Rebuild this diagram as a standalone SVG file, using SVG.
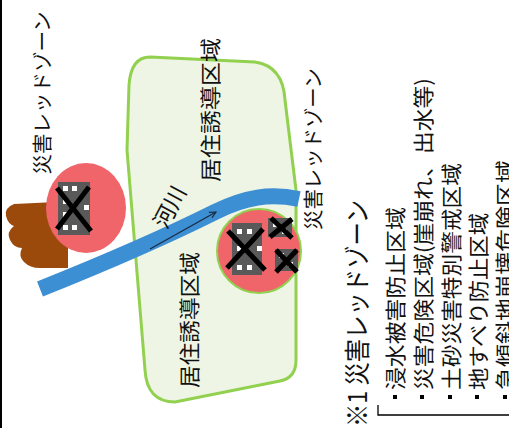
<svg xmlns="http://www.w3.org/2000/svg" width="509" height="428" viewBox="0 0 509 428">
  <defs>
    <marker id="arrowhead" viewBox="0 0 10 10" refX="9" refY="5" markerWidth="8" markerHeight="8" orient="auto" markerUnits="userSpaceOnUse">
      <path d="M1,1 L9,5 L1,9" fill="none" stroke="#1a2a40" stroke-width="1.4"/>
    </marker>
  </defs>
  <style>
    .jp { font-family: "Noto Sans CJK JP", "Noto Sans CJK SC", sans-serif; fill: #111; }
    .zone { fill: #eef5e4; stroke: #92d050; stroke-width: 3; }
    .red { fill: #ef6569; }
    .bldg { fill: #595959; }
    .win { fill: #ffffff; }
    .cross { stroke: #000; stroke-width: 5; stroke-linecap: butt; fill: none; }
    .river { fill: none; stroke: #3d8fd4; stroke-width: 16; stroke-linecap: butt; }
    .flow { fill: none; stroke: #1a2a40; stroke-width: 1.3; }
    .rule { fill: none; stroke: #000; stroke-width: 1.3; }
  </style>

  <rect x="0" y="0" width="509" height="428" fill="#ffffff"/>
  <rect x="0" y="0" width="2" height="428" fill="#000"/>

  <!-- residential guidance zone -->
  <g id="residential-zone">
    <path class="zone" d="M150,57 L255,62 Q283,66 285,100 L296,190 L296,360 Q296,378 280,381 L175,402 Q147,402 145,370 L127,150 L129,85 Q131,57 150,57 Z"/>
  </g>

  <!-- landslide mass -->
  <g id="landslide">
    <path fill="#9c4a0c" d="M56,202 L14,204 Q4,208 6,216 Q8,224 14,226 Q6,232 10,240 Q14,248 22,248 Q18,256 24,262 Q30,268 40,268 L68,268 L68,228 L56,228 Z"/>
  </g>

  <!-- red zone, left -->
  <g id="red-zone-left">
    <ellipse class="red" cx="86" cy="208" rx="40" ry="45"/>
    <rect class="bldg" x="58" y="182" width="32" height="53"/>
    <rect class="win" x="63" y="186" width="5" height="5"/>
    <rect class="win" x="72" y="186" width="5" height="5"/>
    <rect class="win" x="63" y="199" width="5" height="5"/>
    <rect class="win" x="84" y="205" width="5" height="5"/>
    <rect class="win" x="63" y="212" width="5" height="5"/>
    <rect class="win" x="63" y="225" width="5" height="5"/>
    <rect class="win" x="72" y="225" width="5" height="5"/>
    <path class="cross" d="M57,188 L91,231 M89,187 L57,229"/>
  </g>

  <!-- red zone, right -->
  <g id="red-zone-right">
    <circle class="red" cx="259" cy="251" r="42" stroke="#92d050" stroke-width="2"/>
    <rect class="bldg" x="232" y="223" width="30" height="52"/>
    <rect class="win" x="237" y="229" width="5" height="5"/>
    <rect class="win" x="247" y="229" width="5" height="5"/>
    <rect class="win" x="257" y="246" width="5" height="5"/>
    <rect class="win" x="237" y="246" width="5" height="5"/>
    <rect class="win" x="237" y="265" width="5" height="5"/>
    <rect class="win" x="247" y="265" width="5" height="5"/>
    <path class="cross" d="M228,231 L265,270 M263,229 L227,268"/>
    <rect class="bldg" x="268" y="218" width="24" height="19"/>
    <rect class="win" x="273" y="222" width="5" height="5"/>
    <rect class="win" x="282" y="229" width="5" height="5"/>
    <path class="cross" d="M271,218 L292,238 M292,219 L270,237"/>
    <rect class="bldg" x="275" y="249" width="23" height="22"/>
    <rect class="win" x="279" y="253" width="5" height="5"/>
    <rect class="win" x="288" y="262" width="5" height="5"/>
    <path class="cross" d="M276,250 L297,272 M297,250 L276,272"/>
  </g>

  <!-- river and flow direction -->
  <g id="river">
    <path class="river" d="M40,289 C110,261 175,232 215,212 C245,197 270,193 299,199"/>
  </g>
  <g id="connectors">
    <line class="flow" x1="150" y1="249" x2="216" y2="212" marker-end="url(#arrowhead)"/>
  </g>

  <!-- labels -->
  <g id="label-red-zone-left">
    <text class="jp" font-size="20" text-anchor="middle" dominant-baseline="central" textLength="163" lengthAdjust="spacingAndGlyphs" transform="translate(41,93) rotate(-90)">災害レッドゾーン</text>
  </g>
  <g id="label-red-zone-right">
    <text class="jp" font-size="20" text-anchor="middle" dominant-baseline="central" textLength="162" lengthAdjust="spacingAndGlyphs" transform="translate(312,149) rotate(-90)">災害レッドゾーン</text>
  </g>
  <g id="label-zone-upper">
    <text class="jp" font-size="21" text-anchor="middle" dominant-baseline="central" textLength="144" lengthAdjust="spacingAndGlyphs" transform="translate(209,110) rotate(-90)">居住誘導区域</text>
  </g>
  <g id="label-zone-lower">
    <text class="jp" font-size="21" text-anchor="middle" dominant-baseline="central" textLength="136" lengthAdjust="spacingAndGlyphs" transform="translate(188,320) rotate(-90)">居住誘導区域</text>
  </g>
  <g id="label-river">
    <text class="jp" font-size="22" text-anchor="middle" dominant-baseline="central" transform="translate(168,206) rotate(-62)">河川</text>
  </g>

  <!-- footnote -->
  <g id="footnote">
    <text class="jp" font-size="26" dominant-baseline="central" textLength="227" lengthAdjust="spacingAndGlyphs" transform="translate(355,427) rotate(-90)">※1 災害レッドゾーン</text>
    <path class="rule" d="M378,405 L378,415 L509,415"/>
    <rect x="393" y="395" width="4" height="4" fill="#000"/>
    <rect x="420" y="395" width="4" height="4" fill="#000"/>
    <rect x="448" y="395" width="4" height="4" fill="#000"/>
    <rect x="475" y="395" width="4" height="4" fill="#000"/>
    <rect x="503" y="395" width="4" height="4" fill="#000"/>
    <text class="jp" font-size="21" dominant-baseline="central" textLength="183" lengthAdjust="spacingAndGlyphs" transform="translate(394,390) rotate(-90)">浸水被害防止区域</text>
    <text class="jp" font-size="21" dominant-baseline="central" textLength="312" lengthAdjust="spacingAndGlyphs" transform="translate(422,390) rotate(-90)">災害危険区域(崖崩れ、出水等)</text>
    <text class="jp" font-size="21" dominant-baseline="central" textLength="227" lengthAdjust="spacingAndGlyphs" transform="translate(450,390) rotate(-90)">土砂災害特別警戒区域</text>
    <text class="jp" font-size="21" dominant-baseline="central" textLength="177" lengthAdjust="spacingAndGlyphs" transform="translate(477,390) rotate(-90)">地すべり防止区域</text>
    <text class="jp" font-size="21" dominant-baseline="central" textLength="230" lengthAdjust="spacingAndGlyphs" transform="translate(504,390) rotate(-90)">急傾斜地崩壊危険区域</text>
  </g>
</svg>
